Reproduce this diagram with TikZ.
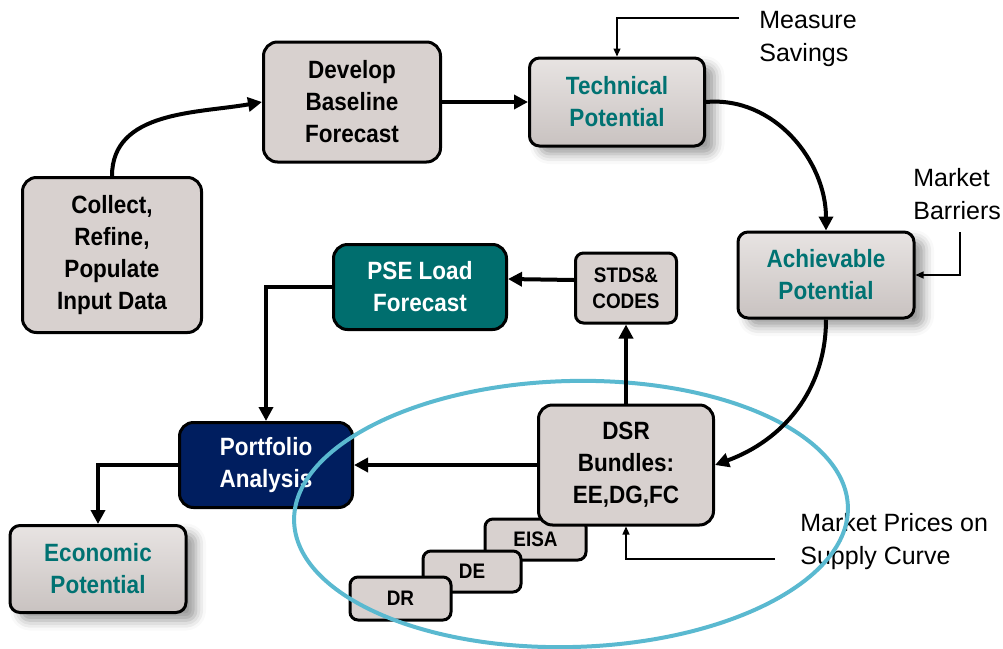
\documentclass[tikz,border=0pt]{standalone}
\usepackage{fontspec}
\setmainfont{Liberation Sans}
\newfontfamily\boxfont{Liberation Sans}[FakeStretch=0.9]
\usetikzlibrary{arrows.meta,shadows.blur}

\definecolor{boxgray}{RGB}{216,209,207}
\definecolor{tealtext}{RGB}{0,114,114}
\definecolor{tealfill}{RGB}{0,110,110}
\definecolor{navyfill}{RGB}{0,30,95}
\definecolor{ellcyan}{RGB}{90,185,208}

\tikzset{
  box/.style = {draw, line width=1.5pt, rounded corners=7pt, fill=boxgray, align=center,
                inner sep=0pt, font=\boxfont\bfseries\fontsize{12.5}{16}\selectfont},
  potbox/.style = {box, rounded corners=5pt, text=tealtext,
                   top color=boxgray!60!white, middle color=boxgray, bottom color=boxgray!93!black,
                   blur shadow={shadow xshift=5pt, shadow yshift=-4pt, shadow blur radius=5pt}},
  smallbox/.style = {box, rounded corners=4pt, font=\boxfont\bfseries\fontsize{10.5}{13}\selectfont},
  flow/.style = {line width=2pt, -{Triangle[length=7pt,width=7pt]}},
  note/.style = {line width=0.6pt, -{Triangle[length=4pt,width=3.5pt]}},
  notetext/.style = {align=left, inner sep=0pt, font=\fontsize{12.5}{16.5}\selectfont}
}

\begin{document}
\begin{tikzpicture}[x=0.5pt, y=0.5pt]
\useasboundingbox (0,0) rectangle (1003,-649);

% main boxes
\node[box, minimum width=89.5pt, minimum height=77.5pt] (collect) at (112,-255) {Collect,\\Refine,\\Populate\\Input Data};
\node[box, minimum width=88.5pt, minimum height=60pt] (develop) at (352,-102) {Develop\\Baseline\\Forecast};
\node[potbox, minimum width=87.5pt, minimum height=44pt] (technical) at (617,-102) {Technical\\Potential};
\node[potbox, minimum width=88pt, minimum height=43pt] (achievable) at (826,-275) {Achievable\\Potential};
\node[smallbox, minimum width=50.5pt, minimum height=35pt] (stds) at (626,-288) {STDS\&\\CODES};
\node[box, fill=tealfill, text=white, minimum width=86.5pt, minimum height=42.5pt] (pse) at (420,-287) {PSE Load\\Forecast};
\node[box, fill=navyfill, text=white, minimum width=86.5pt, minimum height=42.5pt] (portfolio) at (266,-465) {Portfolio\\Analysis};
\node[potbox, minimum width=88pt, minimum height=43.5pt] (economic) at (98,-569) {Economic\\Potential};

% staircase under the bundles
\node[smallbox, minimum width=50.5pt, minimum height=20.5pt] (eisa) at (535.5,-539.5) {EISA};
\node[smallbox, minimum width=49pt, minimum height=20.5pt] (de) at (472,-571.5) {DE};
\node[smallbox, minimum width=50.5pt, minimum height=21.5pt] (dr) at (400.5,-598.5) {DR};
\node[box, minimum width=87.5pt, minimum height=60pt] (dsr) at (626,-465) {DSR\\Bundles:\\EE,DG,FC};

% side notes
\node[notetext, anchor=north west] (measure) at (759,-11) {Measure\\Savings};
\node[notetext, anchor=north west] (barriers) at (913,-168) {Market\\Barriers};
\node[notetext, anchor=north west] (prices) at (800,-513) {Market Prices on\\Supply Curve};

\draw[line width=2pt, ellcyan, rotate around={1.5:(571,-514)}] (571,-514) ellipse [x radius=277, y radius=133];

% flow
\draw[flow] (collect.north) to[out=90, in=190] (develop.west);
\draw[flow] (develop.east) -- (technical.west);
\draw[flow] (technical.east) to[out=5, in=90] (achievable.north);
\draw[flow] (achievable.south) to[out=270, in=20] (dsr.east);
\draw[flow] (dsr.north) -- (stds.south);
\draw[flow] ([yshift=4pt]stds.west) -- ([yshift=4pt]pse.east);
\draw[flow] (pse.west) -| (portfolio.north);
\draw[flow] (dsr.west) -- (portfolio.east);
\draw[flow] (portfolio.west) -| (economic.north);

% note leaders
\coordinate (msend) at (739,-18);
\coordinate (mbend) at (960,-232);
\coordinate (mpend) at (775,-559);
\draw[note] (msend) -| (technical.north);
\draw[note] (mbend) |- (achievable.east);
\draw[note] (mpend) -| (dsr.south);

\end{tikzpicture}
\end{document}
